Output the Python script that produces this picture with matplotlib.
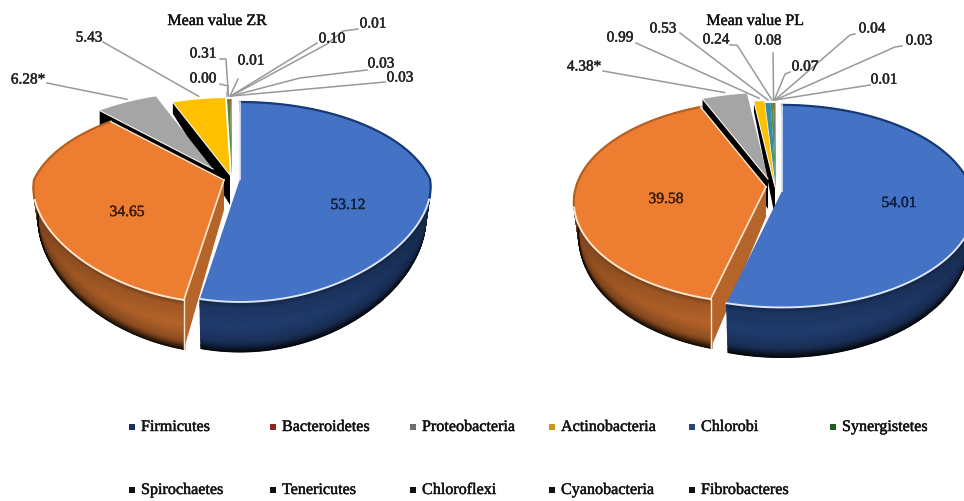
"""Exploded 3D pie charts of mean phylum abundance, ZR and PL."""

import matplotlib

matplotlib.use("Agg")
import matplotlib.patheffects as pe
import matplotlib.pyplot as plt
import numpy as np

plt.rcParams["font.family"] = ["Liberation Serif", "DejaVu Serif"]

phyla = [
    "Firmicutes", "Bacteroidetes", "Proteobacteria", "Actinobacteria", "Chlorobi",
    "Synergistetes", "Spirochaetes", "Tenericutes", "Chloroflexi", "Cyanobacteria",
    "Fibrobacteres",
]
values_zr = [53.12, 34.65, 6.28, 5.43, 0.00, 0.31, 0.01, 0.10, 0.01, 0.03, 0.03]
values_pl = [54.01, 39.58, 4.38, 0.99, 0.53, 0.24, 0.08, 0.07, 0.04, 0.03, 0.01]
labels_zr = ["53.12", "34.65", "6.28*", "5.43", "0.00", "0.31", "0.01", "0.10", "0.01", "0.03", "0.03"]
labels_pl = ["54.01", "39.58", "4.38*", "0.99", "0.53", "0.24", "0.08", "0.07", "0.04", "0.03", "0.01"]

wedge_colors = [
    "#4472c4", "#ed7d31", "#a5a5a5", "#ffc000", "#3a8ba5", "#4f8f3a",
    "#264478", "#9e480e", "#636363", "#997300", "#255e91",
]
legend_colors = [
    "#1c2c66", "#8a2a1a", "#6e6e6e", "#c79a1e", "#27427f", "#1f5c24",
    "#111111", "#111111", "#111111", "#111111", "#111111",
]

# Pie layout in figure pixels
layout_zr = {
    "a": 190, "b": 94.7, "k": 0.23, "kf": 0.08,
    "apex": [(240, 180), (224, 181), (213, 170), (230, 176)],
    "small_apex": (232, 177),
    "title": ("Mean value ZR", 217, 22),
    "inner": [(348, 206), (127, 213)],
    "outer": [
        None, None,
        ((28, 81), [(47, 84)]),
        ((89, 39), [(103, 43)]),
        ((203, 80), [(220, 85), (228, 87)]),
        ((203, 55), [(220, 60), (226, 60)]),
        ((251, 62), [(238, 80)]),
        ((332, 40), [(317, 44)]),
        ((373, 25), [(358, 30), (343, 32), (327, 45)]),
        ((381, 65), [(367, 71), (300, 79)]),
        ((400, 79), [(385, 83)]),
    ],
}
layout_pl = {
    "a": 190, "b": 99, "k": 0.15, "kf": 0.15,
    "apex": [(782, 192), (766, 188), (768, 180), (775, 188)],
    "small_apex": (776, 190),
    "title": ("Mean value PL", 755, 22),
    "inner": [(899, 204), (666, 200)],
    "outer": [
        None, None,
        ((584, 68), [(603, 72)]),
        ((620, 39), [(636, 44)]),
        ((663, 30), [(680, 34)]),
        ((716, 41), [(730, 46), (737, 46)]),
        ((768, 42), [(773, 54)]),
        ((805, 68), [(790, 73), (785, 75)]),
        ((872, 30), [(855, 35), (850, 36)]),
        ((919, 42), [(902, 47), (895, 48)]),
        ((884, 81), [(870, 86)]),
    ],
}

legend_x = [132, 273, 413, 552, 692, 833]
legend_y = [428, 491]

inner_text_colors = ["#0c2050", "#4a1c05"]
text_stroke = [pe.withStroke(linewidth=0.35, foreground="#222222")]


def project(theta, apex, p):
    """Perspective position of a rim point, theta clockwise from 12 o'clock."""
    u, v = np.sin(theta), np.cos(theta)
    s = 1 / (1 + p["k"] * v)
    sx = np.where(v > 0, s, 1 / (1 + p["kf"] * v))
    return apex[0] + p["a"] * u * sx, apex[1] - p["b"] * v * s


def depth(v):
    # Side walls look shorter towards the back
    return 30 - 20 * v


def rim_gradient(theta, base):
    """Vertical shading of a side wall as a (n, m, 3) colour array."""
    t = np.array([0, 0.12, 0.5, 0.82, 0.93, 1.0])
    shade = np.array([0.65, 0.88, 1.0, 0.78, 0.4, 0.08])
    across = 0.62 + 0.38 * np.clip(-np.cos(theta), 0, 1)
    col = np.array(matplotlib.colors.to_rgb(base))
    return t, np.clip(np.outer(across, shade)[..., None] * col, 0, 1)


def draw_side(ax, theta, apex, p, base):
    t, cols = rim_gradient(theta, base)
    x, y = project(theta, apex, p)
    d = depth(np.cos(theta))
    xs = np.outer(x, np.ones_like(t)) + np.outer((apex[0] - x) * 0.025, t)
    ys = np.outer(y, np.ones_like(t)) + np.outer(d, t)
    ax.pcolormesh(xs, ys, cols, shading="gouraud", zorder=2)


def draw_wedge(ax, i, t0, t1, apex, p):
    theta = np.linspace(t0, t1, max(int(np.degrees(t1 - t0)) * 2, 3))
    x, y = project(theta, apex, p)
    d0 = depth(np.cos(t0))

    # Outer wall and the cut face for the large wedges
    if i == 0:
        draw_side(ax, theta, apex, p, "#203c6e")
    elif i == 1:
        draw_side(ax, theta, apex, p, "#b8652a")
        ax.fill(
            [apex[0], x[0], x[0], apex[0]],
            [apex[1], y[0], y[0] + d0, apex[1] + 30],
            color="#b5642a", lw=0, zorder=2,
        )
        ax.plot([x[0], x[0]], [y[0], y[0] + d0 - 1], color="#fde8cf", lw=1.0, zorder=4)
    elif i in (2, 3):
        ax.fill(
            [apex[0], x[0], x[0], apex[0]],
            [apex[1], y[0], y[0] + d0, apex[1] + 30],
            color="black", lw=0, zorder=2,
        )

    ax.fill(
        np.r_[apex[0], x], np.r_[apex[1], y],
        color=wedge_colors[i], lw=0, zorder=3,
    )

    # Bevel: dark along the back of the rim, pale along the front
    if i == 0 or i == 1:
        dark = {0: "#163a78", 1: "#b8601f"}[i]
        light = {0: "#dbe6f7", 1: "#fde8cf"}[i]
        back = np.cos(theta) > -0.2
        ax.plot(x[back], y[back], color=dark, lw=1.6, zorder=4)
        ax.plot(x[~back], y[~back], color=light, lw=1.4, zorder=4)
        ax.plot([apex[0], x[0]], [apex[1], y[0]], color=light, lw=1.2, zorder=4)
    if i == 1:
        ax.plot([apex[0], x[-1]], [apex[1], y[-1]], color="#fde8cf", lw=1.0, zorder=4)
    if i in (2, 3):
        ax.plot(
            np.r_[x[0], apex[0]], np.r_[y[0], apex[1]],
            color="#f2f2f2", lw=0.8, zorder=4,
        )
    return project((t0 + t1) / 2, apex, p)


def draw_pie(ax, values, labels, p):
    edges = np.radians(np.r_[0, np.cumsum(values)] * 3.6)
    anchors = {}
    # Back wedges first so the two large ones sit on top of their walls
    for i in list(range(len(values) - 1, 1, -1)) + [1, 0]:
        apex = p["apex"][i] if i < 4 else p["small_apex"]
        anchors[i] = draw_wedge(ax, i, edges[i], edges[i + 1], apex, p)

    for i, (x, y) in enumerate(p["inner"]):
        ax.text(x, y, labels[i], ha="center", va="center", fontsize=11.2,
                color=inner_text_colors[i], zorder=6, path_effects=text_stroke)

    for i, item in enumerate(p["outer"]):
        if item is None:
            continue
        (tx, ty), bends = item
        ax.text(tx, ty, labels[i], ha="center", va="center", fontsize=11,
                color="#222222", zorder=6, path_effects=text_stroke)
        end_x, end_y = anchors[i]
        px = [b[0] for b in bends] + [end_x]
        py = [b[1] for b in bends] + [end_y - 3]
        ax.plot(px, py, color="#999999", lw=1.1, zorder=5)

    title, tx, ty = p["title"]
    ax.text(tx, ty, title, ha="center", va="center", fontsize=11.5,
            color="#111111", zorder=6, path_effects=text_stroke)


fig = plt.figure(figsize=(9.64, 5.02), dpi=100)
ax = fig.add_axes([0, 0, 1, 1])
ax.set_xlim(0, 964)
ax.set_ylim(502, 0)
ax.axis("off")

draw_pie(ax, values_zr, labels_zr, layout_zr)
draw_pie(ax, values_pl, labels_pl, layout_pl)

# Legend, two rows
for i, name in enumerate(phyla):
    row = 0 if i < 6 else 1
    col = i if i < 6 else i - 6
    ax.scatter(legend_x[col], legend_y[row], marker="s", s=16, color=legend_colors[i], lw=0)
    ax.text(legend_x[col] + 9, legend_y[row], name, ha="left", va="center",
            fontsize=11.6, color="#111111", path_effects=text_stroke)

fig.savefig("out.png", dpi=100)
